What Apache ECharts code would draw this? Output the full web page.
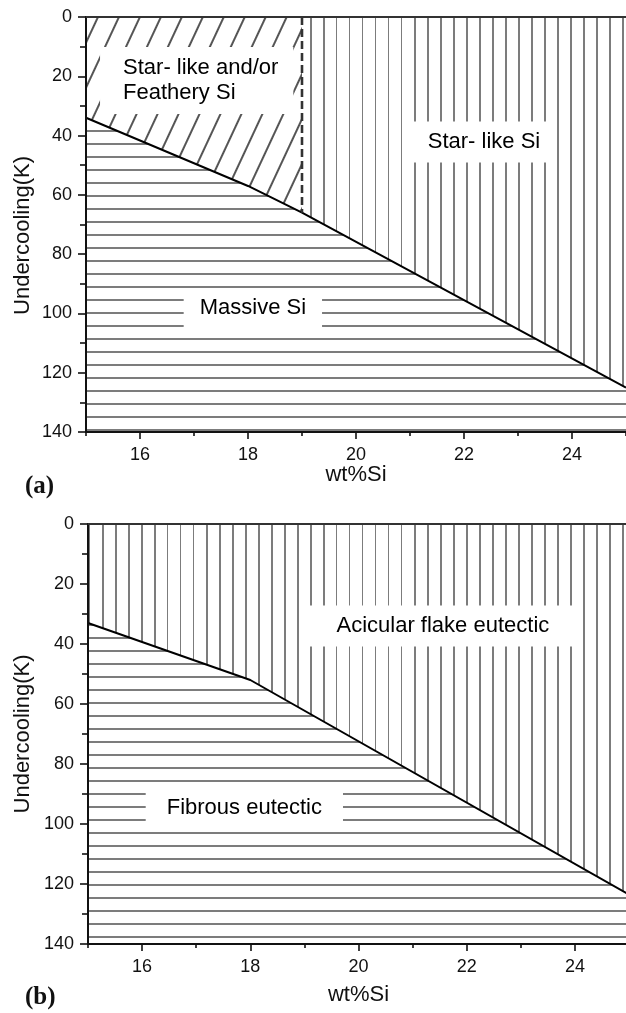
<!DOCTYPE html>
<html>
<head>
<meta charset="utf-8">
<script src="https://cdn.jsdelivr.net/npm/echarts@6/dist/echarts.min.js"></script>
<style>
html,body{margin:0;padding:0;background:#fff;}
#chart{width:626px;height:1013px;}
</style>
</head>
<body>
<div id="chart"></div>
<script>
// ---------- data ----------
const xMajorTicks = [16, 18, 20, 22, 24];
const xMinorTicks = [15, 17, 19, 21, 23, 25];
const xMin = 15, xMax = 25;
const yMin = 0, yMax = 140, yStep = 20;
const xTitle = 'wt%Si';
const yTitle = 'Undercooling(K)';

// panel (a)
const aBoundaryX = [15, 18, 19, 25];
const aBoundaryY = [34, 57, 66, 125];
const aDividerX = [19, 19];
const aDividerY = [0, 66];
const aLabelText = ['Star- like and/or\nFeathery Si', 'Star- like Si', 'Massive Si'];
const aLabelX = [15.26, 22.37, 18.09];
const aLabelY = [21.4, 42.2, 98.2];

// panel (b)
const bBoundaryX = [15, 18, 25];
const bBoundaryY = [33, 52, 123.5];
const bLabelText = ['Acicular flake eutectic', 'Fibrous eutectic'];
const bLabelX = [21.56, 17.89];
const bLabelY = [34.0, 94.7];

// ---------- helpers ----------
const FONT = '"Liberation Sans", Arial, Helvetica, sans-serif';
const pts = (xs, ys) => xs.map((x, i) => [x, ys[i]]);

function hatch(kind) {
  const d = {
    symbol: 'rect', symbolSize: 1, color: '#7c7c7c',
    dashArrayX: [1, 0], dashArrayY: [2, 11], rotation: 0
  };
  if (kind === 'v') { d.rotation = Math.PI / 2; d.dashArrayY = [2, 11]; }
  if (kind === 'd') { d.rotation = -65 * Math.PI / 180; d.dashArrayY = [2, 17]; d.color = '#555'; }
  return d;
}

function areaSeries(gi, data, origin, kind) {
  return {
    type: 'line', xAxisIndex: gi * 3, yAxisIndex: gi, data: data,
    symbol: 'none', silent: true, z: 1,
    lineStyle: { width: 0, decal: hatch(kind) },
    itemStyle: { decal: hatch(kind) },
    areaStyle: { color: '#ffffff', opacity: 1, origin: origin },
    animation: false
  };
}

function lineSeries(gi, data, dashed) {
  return {
    type: 'line', xAxisIndex: gi * 3, yAxisIndex: gi, data: data,
    symbol: 'none', silent: true, z: 4,
    lineStyle: dashed
      ? { color: '#333', width: 2.6, type: [8, 4] }
      : { color: '#000', width: 2 },
    animation: false
  };
}

function labelSeries(gi, xs, ys, texts, cfg) {
  return {
    type: 'scatter', xAxisIndex: gi * 3, yAxisIndex: gi,
    symbolSize: 0, silent: true, z: 8, animation: false,
    itemStyle: { opacity: 1 },
    data: xs.map((x, i) => ({
      value: [x, ys[i]],
      itemStyle: { opacity: 1 },
      label: Object.assign({
        show: true, position: 'inside', formatter: texts[i],
        fontFamily: FONT, fontSize: 22, color: '#000', opacity: 1,
        backgroundColor: '#ffffff', lineHeight: 25
      }, cfg[i])
    }))
  };
}

function xAxes(gi, nameGap) {
  const common = { type: 'value', gridIndex: gi, min: xMin, max: xMax, z: 10 };
  return [
    Object.assign({}, common, {
      position: 'bottom',
      name: xTitle, nameLocation: 'middle', nameGap: nameGap, nameMoveOverlap: false,
      nameTextStyle: { fontFamily: FONT, fontSize: 22, color: '#111' },
      axisLine: { show: true, onZero: false, lineStyle: { color: '#111', width: 2 } },
      axisTick: { show: true, length: 7, customValues: xMajorTicks, lineStyle: { color: '#111', width: 1.6 } },
      axisLabel: { show: true, customValues: xMajorTicks, margin: 14, fontFamily: FONT, fontSize: 18, color: '#111' },
      splitLine: { show: false }
    }),
    Object.assign({}, common, {
      position: 'bottom',
      axisLine: { show: false, onZero: false },
      axisTick: { show: true, length: 4, customValues: xMinorTicks, lineStyle: { color: '#111', width: 1.6 } },
      axisLabel: { show: false },
      splitLine: { show: false }
    }),
    Object.assign({}, common, {
      position: 'top',
      axisLine: { show: true, onZero: false, lineStyle: { color: '#333', width: 2 } },
      axisTick: { show: false }, axisLabel: { show: false }, splitLine: { show: false }
    })
  ];
}

function yAxis(gi, nameGap, namePad) {
  return {
    type: 'value', gridIndex: gi, min: yMin, max: yMax, interval: yStep, inverse: true, z: 10,
    position: 'left',
    name: yTitle, nameLocation: 'middle', nameGap: nameGap, nameMoveOverlap: false,
    nameTextStyle: { fontFamily: FONT, fontSize: 22, color: '#111', padding: namePad },
    axisLine: { show: true, onZero: false, lineStyle: { color: '#111', width: 2 } },
    axisTick: { show: true, length: 8, lineStyle: { color: '#111', width: 1.6 } },
    minorTick: { show: true, splitNumber: 2, length: 6, lineStyle: { color: '#111', width: 1.6 } },
    axisLabel: { margin: 14, fontFamily: FONT, fontSize: 18, color: '#111' },
    splitLine: { show: false }, minorSplitLine: { show: false }
  };
}

const aBoundary = pts(aBoundaryX, aBoundaryY);
const bBoundary = pts(bBoundaryX, bBoundaryY);
const aLeftPart = aBoundary.filter(p => p[0] <= aDividerX[0]);
const aRightPart = aBoundary.filter(p => p[0] >= aDividerX[0]);

const option = {
  backgroundColor: '#fff',
  animation: false,
  grid: [
    { left: 86, top: 17, width: 540, height: 415, outerBoundsMode: 'none', containLabel: false },
    { left: 88, top: 524, width: 541, height: 420, outerBoundsMode: 'none', containLabel: false }
  ],
  xAxis: xAxes(0, 32).concat(xAxes(1, 40)),
  yAxis: [yAxis(0, 52, [0, 22, 0, 0]), yAxis(1, 54, 0)],
  graphic: [
    { type: 'text', left: 25, top: 474, silent: true,
      style: { text: '(a)', font: 'bold 25px "Liberation Serif", "Times New Roman", serif', fill: '#111' } },
    { type: 'text', left: 25, top: 985, silent: true,
      style: { text: '(b)', font: 'bold 25px "Liberation Serif", "Times New Roman", serif', fill: '#111' } }
  ],
  series: [
    // panel (a)
    areaSeries(0, aLeftPart, 'start', 'd'),
    areaSeries(0, aRightPart, 'start', 'v'),
    areaSeries(0, aBoundary, 'end', 'h'),
    lineSeries(0, aBoundary, false),
    lineSeries(0, pts(aDividerX, aDividerY), true),
    labelSeries(0, aLabelX, aLabelY, aLabelText, [
      { align: 'left', verticalAlign: 'middle', padding: [13, 15, 4, 23] },
      { align: 'center', verticalAlign: 'middle', padding: [8, 15] },
      { align: 'center', verticalAlign: 'middle', padding: [7, 16] }
    ]),
    // panel (b)
    areaSeries(1, bBoundary, 'start', 'v'),
    areaSeries(1, bBoundary, 'end', 'h'),
    lineSeries(1, bBoundary, false),
    labelSeries(1, bLabelX, bLabelY, bLabelText, [
      { align: 'center', verticalAlign: 'middle', padding: [8, 30] },
      { align: 'center', verticalAlign: 'middle', padding: [9, 21] }
    ])
  ]
};

const chart = echarts.init(document.getElementById('chart'), null, { renderer: 'canvas' });
chart.setOption(option);
</script>
</body>
</html>
